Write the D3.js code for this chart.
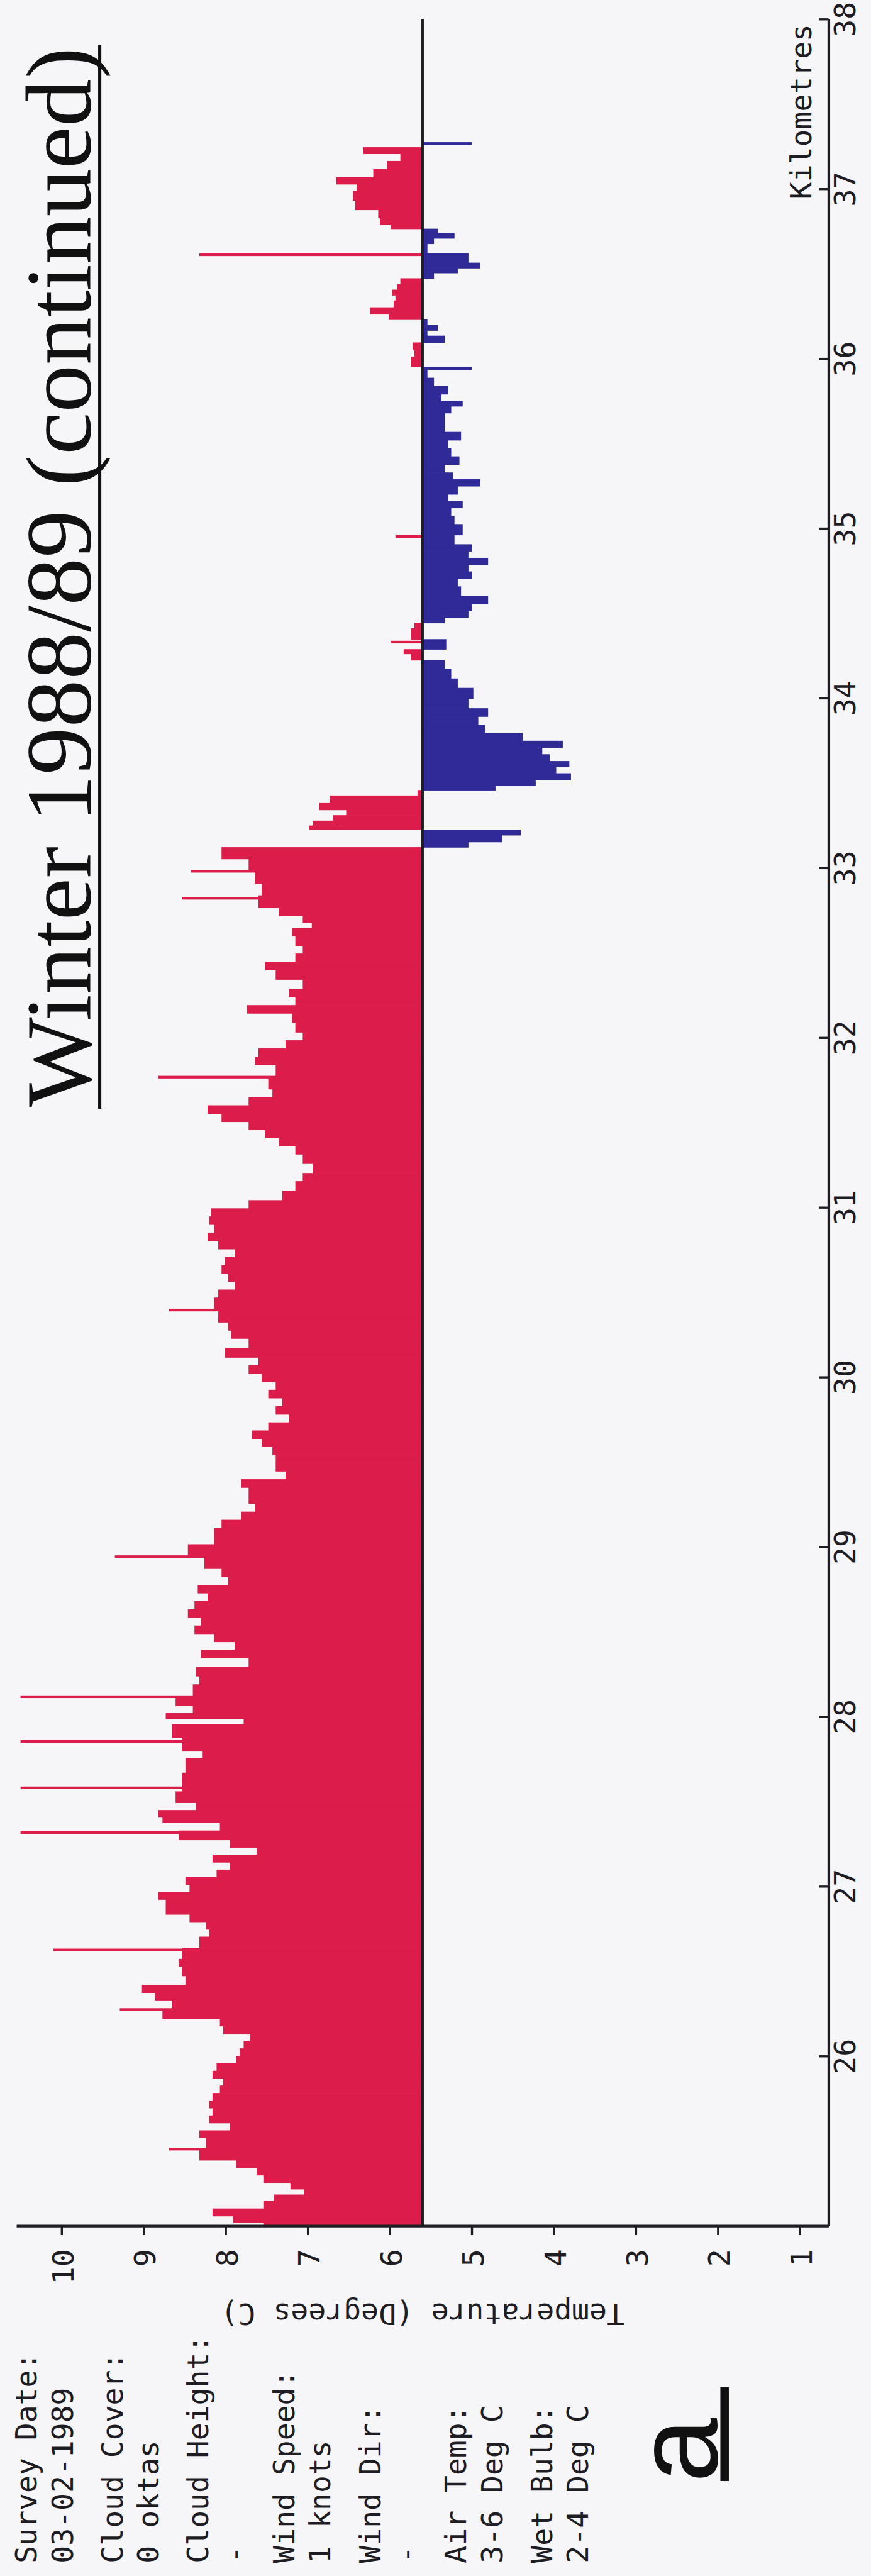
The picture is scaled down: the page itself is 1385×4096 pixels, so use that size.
<!DOCTYPE html>
<html>
<head>
<meta charset="utf-8">
<script src="https://cdn.jsdelivr.net/npm/d3@7"></script>
<style>
  html, body { margin: 0; padding: 0; background: #f6f5f8; }
  svg { display: block; }
</style>
</head>
<body>
<div id="chart"></div>
<script>
// Distance along the traverse (km) and the recorded road-surface temperature (deg C)
const distanceKm = [
  25.000, 25.035, 25.079, 25.123, 25.167, 25.199, 25.232, 25.276, 25.320, 25.364,
  25.408, 25.496, 25.539, 25.583, 25.627, 25.671, 25.715, 25.759, 25.803, 25.847,
  25.890, 25.934, 25.978, 26.022, 26.066, 26.110, 26.154, 26.198, 26.242, 26.307,
  26.351, 26.395, 26.439, 26.505, 26.549, 26.593, 26.680, 26.724, 26.768, 26.812,
  26.856, 26.900, 26.944, 26.987, 27.031, 27.075, 27.119, 27.163, 27.207, 27.251,
  27.295, 27.360, 27.393, 27.426, 27.470, 27.514, 27.602, 27.646, 27.690, 27.733,
  27.777, 27.821, 27.931, 27.975, 27.997, 28.041, 28.084, 28.161, 28.216, 28.260,
  28.320, 28.368, 28.416, 28.464, 28.511, 28.559, 28.607, 28.655, 28.703, 28.751,
  28.799, 28.847, 28.895, 28.990, 29.038, 29.086, 29.134, 29.182, 29.230, 29.278,
  29.325, 29.373, 29.421, 29.469, 29.517, 29.565, 29.613, 29.661, 29.708, 29.756,
  29.804, 29.852, 29.900, 29.948, 29.996, 30.044, 30.092, 30.139, 30.203, 30.251,
  30.299, 30.347, 30.443, 30.491, 30.538, 30.586, 30.634, 30.682, 30.730, 30.778,
  30.826, 30.874, 30.922, 30.969, 31.017, 31.065, 31.129, 31.177, 31.225, 31.289,
  31.336, 31.384, 31.432, 31.480, 31.528, 31.576, 31.624, 31.672, 31.720, 31.815,
  31.863, 31.911, 31.959, 32.007, 32.055, 32.119, 32.166, 32.214, 32.262, 32.310,
  32.374, 32.422, 32.470, 32.518, 32.565, 32.629, 32.661, 32.693, 32.741, 32.789,
  32.885, 32.932, 33.028, 33.076, 33.108, 33.133, 33.171, 33.213, 33.235, 33.261,
  33.293, 33.325, 33.357, 33.404, 33.446, 33.468, 33.500, 33.532, 33.580, 33.612,
  33.644, 33.692, 33.724, 33.771, 33.819, 33.867, 33.915, 33.963, 34.027, 34.091,
  34.138, 34.202, 34.244, 34.276, 34.298, 34.394, 34.426, 34.458, 34.490, 34.538,
  34.570, 34.633, 34.681, 34.729, 34.761, 34.809, 34.841, 34.889, 34.921, 35.000,
  35.048, 35.096, 35.144, 35.176, 35.224, 35.272, 35.304, 35.352, 35.399, 35.447,
  35.495, 35.543, 35.591, 35.655, 35.703, 35.735, 35.766, 35.814, 35.862, 35.910,
  35.990, 36.031, 36.070, 36.118, 36.150, 36.181, 36.213, 36.245, 36.277, 36.325,
  36.357, 36.389, 36.421, 36.453, 36.491, 36.517, 36.548, 36.580, 36.660, 36.692,
  36.724, 36.756, 36.772, 36.804, 36.852, 36.900, 36.963, 37.011, 37.043, 37.091,
  37.139, 37.187, 37.225
];
const temperatureC = [
  7.54, 7.91, 8.16, 7.54, 7.41, 7.04, 7.21, 7.54, 7.62, 7.87,
  8.32, 8.24, 8.32, 7.95, 8.20, 8.16, 8.20, 8.16, 8.07, 8.03,
  8.16, 8.11, 7.87, 7.83, 7.78, 7.70, 8.03, 8.07, 8.77, 8.65,
  8.86, 9.02, 8.49, 8.53, 8.57, 8.53, 8.32, 8.20, 8.24, 8.44,
  8.73, 8.73, 8.82, 8.44, 8.49, 8.11, 7.95, 8.16, 7.62, 7.95,
  8.57, 8.07, 8.77, 8.82, 8.36, 8.61, 8.53, 8.53, 8.49, 8.49,
  8.28, 8.53, 8.65, 7.78, 8.73, 8.40, 8.61, 8.40, 8.32, 8.36,
  7.72, 8.30, 7.89, 8.14, 8.38, 8.30, 8.46, 8.38, 8.22, 8.34,
  7.97, 8.05, 8.26, 8.46, 8.14, 8.14, 8.05, 7.81, 7.64, 7.72,
  7.72, 7.81, 7.27, 7.39, 7.39, 7.43, 7.56, 7.68, 7.48, 7.23,
  7.39, 7.31, 7.48, 7.39, 7.56, 7.72, 7.60, 8.01, 7.72, 7.93,
  7.97, 8.09, 8.14, 8.09, 7.89, 7.97, 8.05, 8.01, 7.89, 8.09,
  8.22, 8.14, 8.20, 8.18, 7.72, 7.31, 7.15, 7.06, 6.94, 7.06,
  7.15, 7.35, 7.52, 7.72, 8.05, 8.22, 7.72, 7.43, 7.48, 7.39,
  7.64, 7.60, 7.27, 7.06, 7.15, 7.19, 7.74, 7.15, 7.23, 7.06,
  7.39, 7.52, 7.15, 7.06, 7.15, 7.19, 6.95, 7.06, 7.35, 7.60,
  7.56, 7.64, 7.72, 8.05, 8.05, 5.04, 4.63, 4.40, 6.98, 6.94,
  6.69, 6.53, 6.86, 6.73, 5.66, 4.71, 4.22, 3.79, 3.97, 3.81,
  4.05, 4.14, 3.89, 4.38, 4.84, 4.92, 4.80, 5.04, 4.98, 5.17,
  5.25, 5.33, 5.74, 5.83, 5.31, 5.74, 5.70, 5.33, 5.04, 5.00,
  4.80, 5.13, 5.17, 5.00, 5.04, 4.80, 5.04, 5.00, 5.21, 5.11,
  5.21, 5.25, 5.11, 5.29, 5.17, 4.90, 5.23, 5.33, 5.15, 5.25,
  5.29, 5.13, 5.33, 5.33, 5.25, 5.11, 5.37, 5.29, 5.46, 5.54,
  5.74, 5.70, 5.72, 5.33, 5.54, 5.41, 5.54, 6.01, 6.24, 5.95,
  5.93, 5.97, 5.91, 5.87, 5.46, 5.17, 4.90, 5.04, 5.54, 5.46,
  5.21, 5.41, 5.99, 6.12, 6.14, 6.42, 6.45, 6.40, 6.65, 6.20,
  6.03, 5.87, 6.32
];

// Isolated single readings that stand out from their neighbours
const spikeKm    = [25.452, 26.274, 26.625, 27.317, 27.580, 27.854, 28.117, 28.942,
                    30.395, 31.767, 32.821, 32.980, 34.330, 34.952, 35.942, 36.612, 37.267];
const spikeTempC = [8.69, 9.29, 10.10, 10.50, 10.50, 10.50, 10.50, 9.35,
                    8.69, 8.82, 8.53, 8.42, 5.99, 5.93, 5.00, 8.32, 5.00];

const baselineTemp = 5.6;
const kmTicks = [26, 27, 28, 29, 30, 31, 32, 33, 34, 35, 36, 37, 38];
const tempTicks = [1, 2, 3, 4, 5, 6, 7, 8, 9, 10];

const titleText = "Winter 1988/89 (continued)";
const surveyNotes = [
  ["Survey Date:", "03-02-1989"],
  ["Cloud Cover:", "0 oktas"],
  ["Cloud Height:", "-"],
  ["Wind Speed:", "1 knots"],
  ["Wind Dir:", "-"],
  ["Air Temp:", "3-6 Deg C"],
  ["Wet Bulb:", "2-4 Deg C"]
];
const panelLetter = "a";

// ---- drawing (laid out in a 1642 x 4855 frame, scaled into the window) ----
const W = 1642, H = 4855;
const k = 1385 / W;
const RED = "#dc1c4b", BLUE = "#2f2a98", INK = "#1e1d24";
const MONO = "'DejaVu Sans Mono', 'Liberation Mono', monospace";

const svg = d3.select("#chart").append("svg")
  .attr("width", 1385).attr("height", 4096)
  .style("background", "#f6f5f8");
const g = svg.append("g").attr("transform", `scale(${k})`);

// The plot is turned on its side: distance runs up the page, temperature runs right-to-left
const y = d3.scaleLinear().domain([25, 38]).range([4196, 36]);
const x = d3.scaleLinear().domain([0.65, 10.55]).range([1562, 31]);

// Profile bars between neighbouring readings
const n = distanceKm.length;
const bars = distanceKm.map((km, i) => {
  const lo = i === 0 ? km : (distanceKm[i - 1] + km) / 2;
  const hi = i === n - 1 ? km + (km - distanceKm[i - 1]) / 2 : (km + distanceKm[i + 1]) / 2;
  return { lo, hi, t: temperatureC[i] };
});
const x0 = x(baselineTemp);
g.append("g").selectAll("rect").data(bars).join("rect")
  .attr("x", d => Math.min(x(d.t), x0))
  .attr("width", d => Math.abs(x(d.t) - x0))
  .attr("y", d => y(d.hi) - 0.4)
  .attr("height", d => y(d.lo) - y(d.hi) + 0.8)
  .attr("fill", d => d.t >= baselineTemp ? RED : BLUE);

// Thin single-reading spikes
const spikes = spikeKm.map((km, i) => ({ km, t: spikeTempC[i] }));
g.append("g").selectAll("rect").data(spikes).join("rect")
  .attr("x", d => Math.min(x(d.t), x0))
  .attr("width", d => Math.abs(x(d.t) - x0))
  .attr("y", d => y(d.km) - 2.5)
  .attr("height", 5)
  .attr("fill", d => d.t >= baselineTemp ? RED : BLUE);

// Reference line at the baseline temperature
g.append("line")
  .attr("x1", x0).attr("x2", x0)
  .attr("y1", y(38)).attr("y2", y(25))
  .attr("stroke", INK).attr("stroke-width", 5);

// Distance axis (right-hand side)
const kmAxis = g.append("g").attr("transform", `translate(${x(0.65)},0)`)
  .call(d3.axisRight(y).tickValues(kmTicks).tickSizeInner(-18).tickSizeOuter(0).tickFormat(d3.format("d")));
kmAxis.select(".domain").attr("stroke", INK).attr("stroke-width", 5);
kmAxis.selectAll(".tick line").attr("stroke", INK).attr("stroke-width", 4);
kmAxis.selectAll(".tick text")
  .attr("x", null).attr("dy", null)
  .attr("transform", "translate(50,0) rotate(-90)")
  .attr("text-anchor", "middle")
  .attr("fill", INK)
  .style("font-family", MONO).style("font-size", "55px");

// Temperature axis (bottom)
const tAxis = g.append("g").attr("transform", `translate(0,${y(25)})`)
  .call(d3.axisBottom(x).tickValues(tempTicks).tickSizeInner(17).tickSizeOuter(0).tickFormat(d3.format("d")));
tAxis.select(".domain").attr("stroke", INK).attr("stroke-width", 5);
tAxis.selectAll(".tick line").attr("stroke", INK).attr("stroke-width", 4);
tAxis.selectAll(".tick text")
  .attr("y", null).attr("dy", null)
  .attr("transform", "translate(22,44) rotate(-90)")
  .attr("text-anchor", "end")
  .attr("fill", INK)
  .style("font-family", MONO).style("font-size", "55px");

// Axis titles
g.append("text")
  .attr("transform", "translate(1529,45) rotate(-90)")
  .attr("text-anchor", "end")
  .attr("fill", INK)
  .style("font-family", MONO).style("font-size", "55px")
  .text("Kilometres");

g.append("text")
  .attr("transform", `translate(${x(5.6)},4362) rotate(180)`)
  .attr("text-anchor", "middle")
  .attr("dominant-baseline", "central")
  .attr("fill", INK)
  .style("font-family", MONO).style("font-size", "55px")
  .text("Temperature (Degrees C)");

// Title with underline
g.append("text")
  .attr("transform", "translate(171,2087) rotate(-90)")
  .attr("fill", "#111")
  .attr("textLength", 1998).attr("lengthAdjust", "spacingAndGlyphs")
  .style("font-family", "'Liberation Serif', 'Times New Roman', serif")
  .style("font-size", "176px")
  .text(titleText);
g.append("line")
  .attr("x1", 188).attr("x2", 188).attr("y1", 85).attr("y2", 2090)
  .attr("stroke", "#111").attr("stroke-width", 6);

// Survey conditions block
const noteLines = surveyNotes.flatMap((p, i) => [
  { text: p[0], cx: 52 + i * 162 },
  { text: p[1], cx: 120 + i * 162 }
]);
g.append("g").selectAll("text").data(noteLines).join("text")
  .attr("transform", d => `translate(${d.cx + 17},4832) rotate(-90)`)
  .attr("fill", INK)
  .style("font-family", MONO).style("font-size", "55px")
  .text(d => d.text);

// Panel letter
g.append("text")
  .attr("transform", "translate(1351,4680) rotate(-90)")
  .attr("fill", "#111")
  .style("font-family", "'Liberation Sans', Arial, sans-serif")
  .style("font-size", "220px")
  .text(panelLetter);
g.append("rect")
  .attr("x", 1358).attr("y", 4500).attr("width", 16).attr("height", 177)
  .attr("fill", "#111");
</script>
</body>
</html>
